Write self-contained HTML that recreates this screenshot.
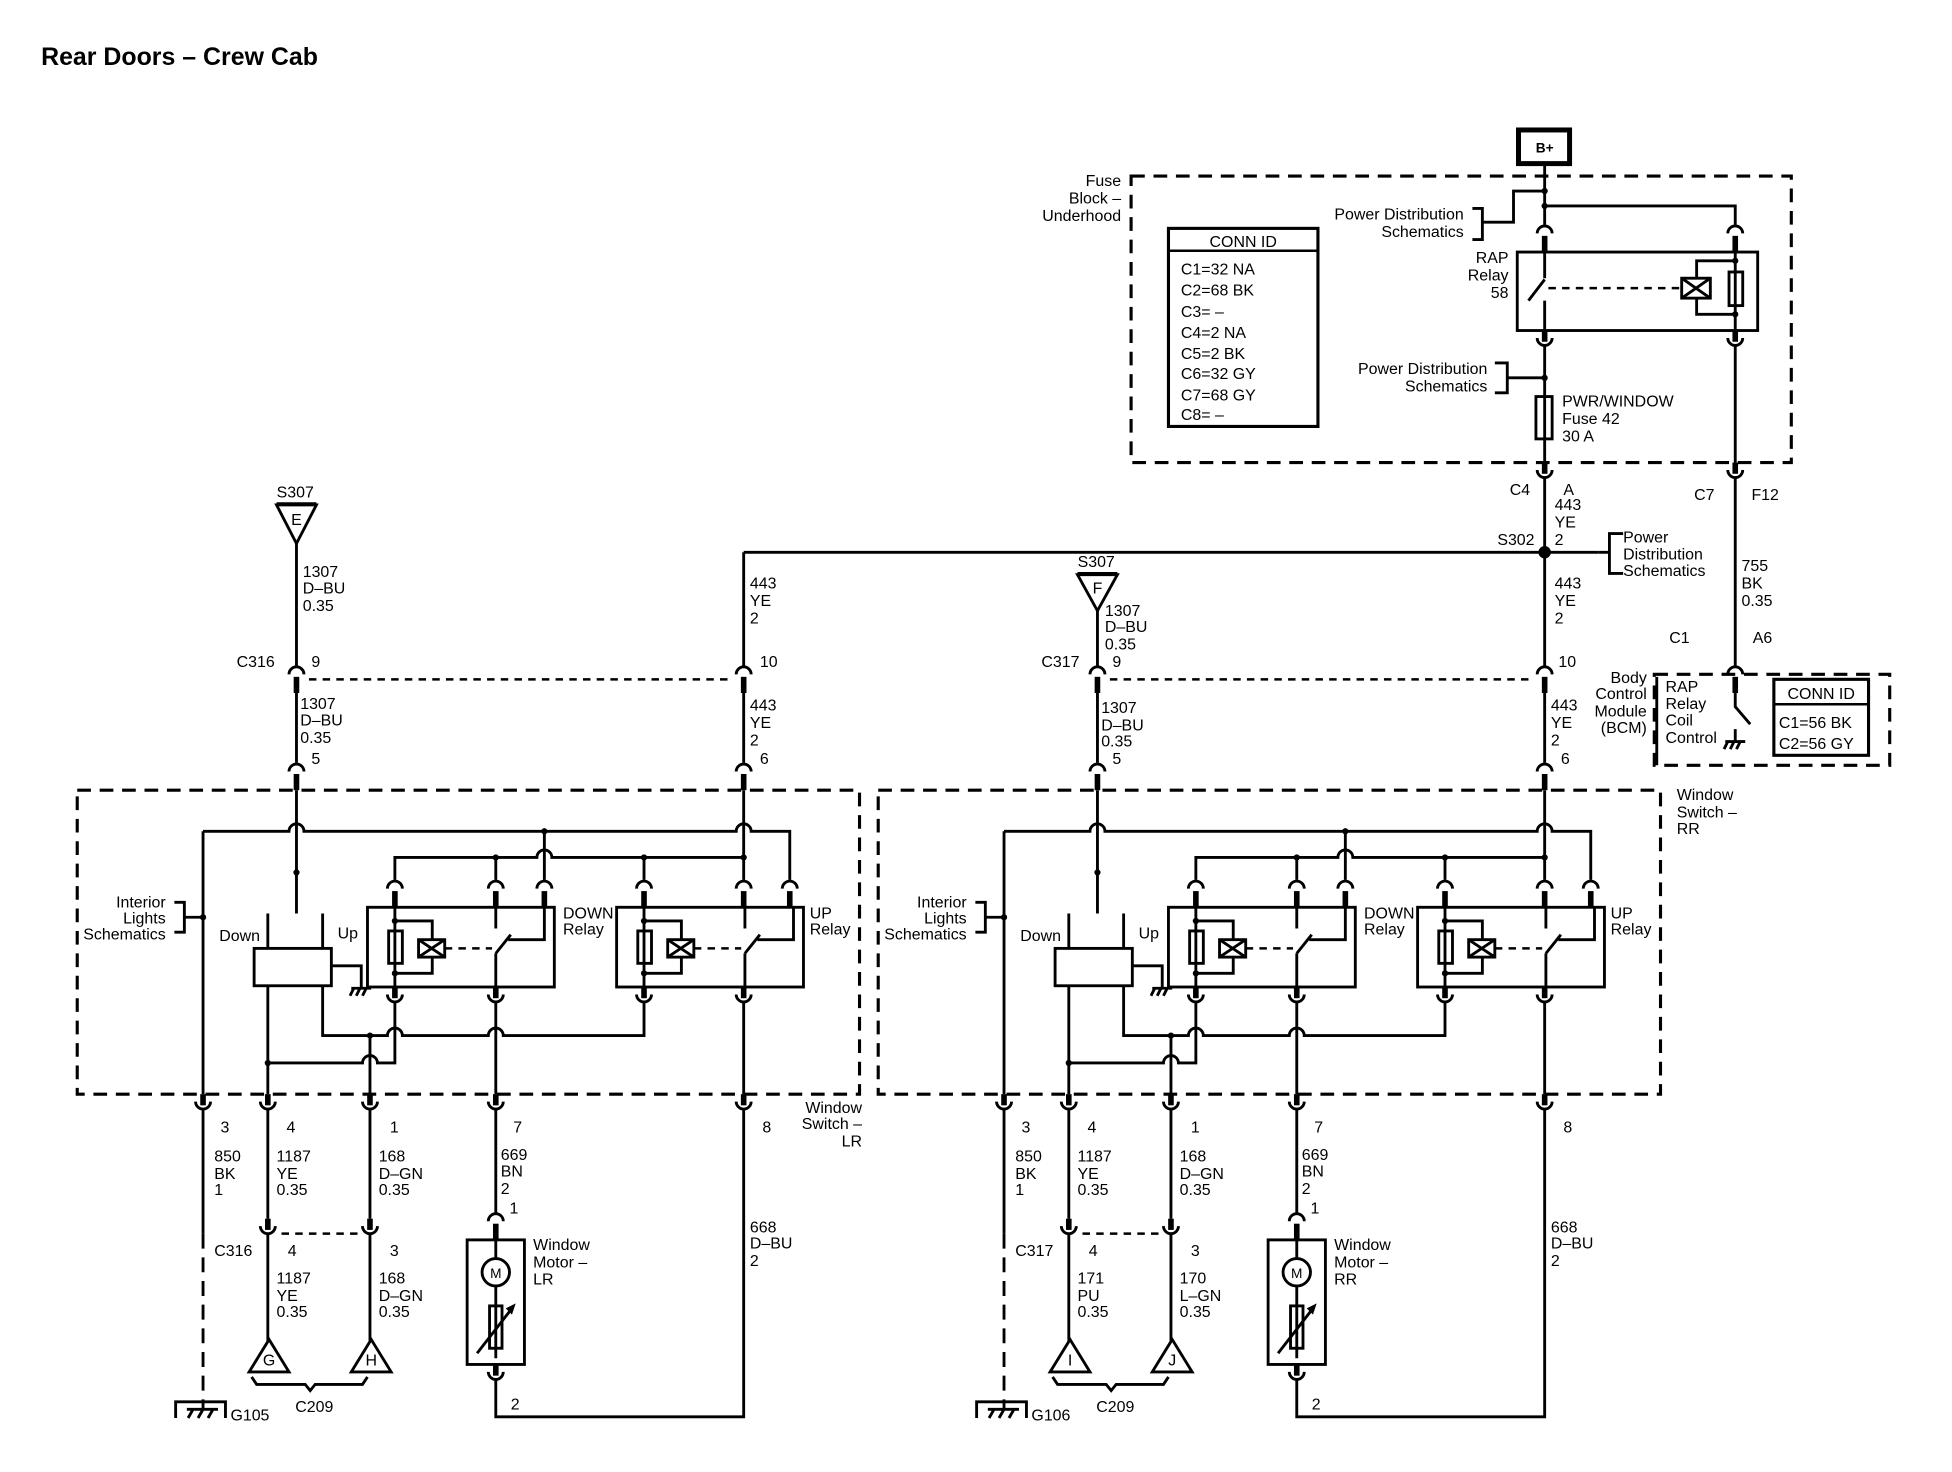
<!DOCTYPE html>
<html><head><meta charset="utf-8"><style>
html,body{margin:0;padding:0;background:#fff;}
svg{display:block;}
text{font-family:"Liberation Sans",Arial,sans-serif;font-size:12.8px;fill:#000;}
.b{font-weight:bold;}
.w{fill:none;stroke:#000;stroke-width:2.3;}
.d{fill:none;stroke:#000;stroke-width:2.5;stroke-dasharray:11 7;}
.ds{fill:none;stroke:#000;stroke-width:2;stroke-dasharray:6 5;}
.th{stroke:#000;stroke-width:4.5;}
</style></head><body>
<svg width="1952" height="1472" viewBox="0 0 1567 1181" xmlns="http://www.w3.org/2000/svg">
<defs>
 <g id="ct"><path d="M-6,7 A6,6 0 0 1 6,7" class="w"/><line x1="0" y1="9" x2="0" y2="22" class="th"/></g>
 <g id="cb"><line x1="0" y1="0" x2="0" y2="9" class="th"/><path d="M-6,6 A6,6 0 0 0 6,6" class="w"/></g>
 <g id="gnd"><path d="M-8,0 H8 M-6,0 L-9,6 M-1,0 L-4,6 M4,0 L1,6" class="w" stroke-width="1.8"/></g>
 <g id="relay">
  <rect x="0" y="0" width="150" height="64" class="w"/>
  <line x1="22" y1="0" x2="22" y2="64" class="w"/>
  <rect x="17" y="19" width="11" height="26" fill="#fff" class="w"/>
  <path d="M22,11 H52 V26 M52,40 V53 H22" class="w"/>
  <circle cx="22" cy="11" r="2.5"/><circle cx="22" cy="53" r="2.5"/>
  <rect x="41" y="26" width="21" height="14" fill="#fff" class="w"/>
  <path d="M41,26 L62,40 M62,26 L41,40" class="w" stroke-width="1.8"/>
  <line x1="62" y1="33" x2="100" y2="33" class="ds"/>
  <path d="M103,0 V17 M103,37 V64 M103,37 L115,22 M142,0 V26 H113" class="w"/>
 </g>
 <g id="door">
  <use href="#ct" x="238" y="534"/><use href="#ct" x="597" y="534"/>
  <line x1="248" y1="545" x2="588" y2="545" class="ds"/>
  <path d="M238,556 V612 M597,556 V612" class="w"/>
  <use href="#ct" x="238" y="612"/><use href="#ct" x="597" y="612"/>
  <rect x="62" y="634" width="628" height="244" class="d"/>
  <path d="M238,634 V733 M597,634 V706" class="w"/>
  <circle cx="238" cy="700" r="2.5"/>
  <path d="M163,667 H232 A6,6 0 0 1 244,667 H591 A6,6 0 0 1 603,667 H634 V706" class="w"/>
  <path d="M163,667 V878" class="w"/>
  <circle cx="163" cy="736" r="2.5"/>
  <path d="M140,724 H148 V748 H140 M148,736 H163" class="w"/>
  <path d="M317,706 V688 H431 A6,6 0 0 1 443,688 H597" class="w"/>
  <path d="M398,688 V706 M517,688 V706 M437,667 V706" class="w"/>
  <circle cx="398" cy="688" r="2.5"/><circle cx="517" cy="688" r="2.5"/><circle cx="597" cy="688" r="2.5"/><circle cx="437" cy="667" r="2.5"/>
  <use href="#ct" x="317" y="706"/><use href="#ct" x="398" y="706"/><use href="#ct" x="437" y="706"/>
  <use href="#ct" x="517" y="706"/><use href="#ct" x="597" y="706"/><use href="#ct" x="634" y="706"/>
  <use href="#relay" x="295" y="728"/><use href="#relay" x="495" y="728"/>
  <use href="#cb" x="317" y="792"/><use href="#cb" x="398" y="792"/><use href="#cb" x="517" y="792"/><use href="#cb" x="597" y="792"/>
  <path d="M215,733 V761 M259,733 V761" class="w"/>
  <rect x="204" y="761" width="62" height="30" class="w" fill="#fff"/>
  <path d="M266,775 H290 V792" class="w"/>
  <use href="#gnd" x="290" y="793"/>
  <path d="M259,791 V831 H311 A6,6 0 0 1 323,831 H392 A6,6 0 0 1 404,831 H517 V804" class="w"/>
  <circle cx="297" cy="831" r="2.5"/>
  <path d="M317,804 V853 H303 A6,6 0 0 0 291,853 H215" class="w"/>
  <circle cx="215" cy="853" r="2.5"/>
  <path d="M215,791 V878 M297,831 V878 M398,804 V878 M597,804 V878" class="w"/>
  <use href="#cb" x="163" y="878"/><use href="#cb" x="215" y="878"/><use href="#cb" x="297" y="878"/><use href="#cb" x="398" y="878"/><use href="#cb" x="597" y="878"/>
  <path d="M163,890 V990" class="w"/>
  <path d="M163,990 V1130" class="w" stroke-dasharray="12 7"/>
  <path d="M141,1138 V1125 H181 V1138 M150,1131 H175 M155,1131 L151,1138 M163,1131 L159,1138 M171,1131 L167,1138" class="w"/>
  <path d="M215,890 V978 M297,890 V978" class="w"/>
  <use href="#cb" x="215" y="978"/><use href="#cb" x="297" y="978"/>
  <line x1="226" y1="990" x2="287" y2="990" class="ds"/>
  <path d="M215,990 V1076 M297,990 V1076" class="w"/>
  <polygon points="216,1075 232,1101 200,1101" fill="#fff" class="w"/>
  <polygon points="298,1075 314,1101 282,1101" fill="#fff" class="w"/>
  <path d="M202,1105 L206,1111 H245 L249,1116 L253,1111 H291 L295,1105" class="w"/>
  <path d="M398,890 V973" class="w"/>
  <use href="#ct" x="398" y="973"/>
  <rect x="375" y="995" width="46" height="100" class="w" fill="none"/>
  <path d="M398,995 V1010 M398,1032 V1090" class="w"/>
  <circle cx="398" cy="1021" r="11" fill="#fff" class="w"/>
  <text x="398" y="1025.5" text-anchor="middle" style="font-size:11px">M</text>
  <rect x="393" y="1048" width="10" height="34" fill="#fff" class="w"/>
  <path d="M383,1086 L411,1050" class="w"/>
  <polygon points="414,1046 406,1050 411,1055"/>
  <use href="#cb" x="398" y="1095"/>
  <path d="M398,1107 V1137 H597 V890" class="w"/>
 </g>
</defs>

<text x="33" y="52" class="b" style="font-size:20px">Rear Doors – Crew Cab</text>

<rect x="1219" y="104" width="41" height="27" fill="#fff" stroke="#000" stroke-width="4"/>
<text x="1240" y="122" text-anchor="middle" class="b" style="font-size:11px">B+</text>
<rect x="908" y="141" width="530" height="230" class="d"/>
<path d="M1240,131 V180 M1240,165 H1393 V180" class="w"/>
<circle cx="1240" cy="153" r="2.5"/><circle cx="1240" cy="165" r="2.5"/>
<path d="M1182,167 H1190 V192 H1182 M1190,178 H1215 V153 H1240" class="w"/>
<use href="#ct" x="1240" y="180"/><use href="#ct" x="1393" y="180"/>
<rect x="1218" y="202" width="193" height="63" class="w"/>
<path d="M1240,202 V223 M1240,241 V265 M1227,241 L1240,224" class="w"/>
<line x1="1243" y1="231" x2="1349" y2="231" class="ds"/>
<rect x="1350" y="223" width="23" height="16" fill="#fff" class="w"/>
<path d="M1350,223 L1373,239 M1373,223 L1350,239" class="w" stroke-width="1.8"/>
<path d="M1393,202 V265 M1393,209 H1362 V223 M1362,239 V252 H1393" class="w"/>
<circle cx="1393" cy="209" r="2.5"/><circle cx="1393" cy="252" r="2.5"/>
<rect x="1388" y="218" width="11" height="27" fill="#fff" class="w"/>
<use href="#cb" x="1240" y="265"/><use href="#cb" x="1393" y="265"/>
<path d="M1240,277 V318 M1200,291 H1210 V315 H1200 M1210,303 H1240" class="w"/>
<circle cx="1240" cy="303" r="2.5"/>
<rect x="1233" y="318" width="13" height="34" class="w"/>
<path d="M1240,318 V371" class="w"/>
<path d="M1393,277 V371" class="w"/>
<use href="#cb" x="1240" y="371"/><use href="#cb" x="1393" y="371"/>
<rect x="938" y="183" width="120" height="159" fill="none" stroke="#000" stroke-width="2.5"/>
<line x1="938" y1="201" x2="1058" y2="201" stroke="#000" stroke-width="2"/>
<text x="998" y="198" text-anchor="middle">CONN ID</text>
<text x="948" y="220">C1=32 NA</text><text x="948" y="237">C2=68 BK</text><text x="948" y="254">C3= –</text><text x="948" y="271">C4=2 NA</text><text x="948" y="288">C5=2 BK</text><text x="948" y="304">C6=32 GY</text><text x="948" y="321">C7=68 GY</text><text x="948" y="337">C8= –</text>
<text x="900" y="149" text-anchor="end">Fuse</text><text x="900" y="163" text-anchor="end">Block –</text><text x="900" y="177" text-anchor="end">Underhood</text>
<text x="1175" y="176" text-anchor="end">Power Distribution</text><text x="1175" y="190" text-anchor="end">Schematics</text>
<text x="1211" y="211" text-anchor="end">RAP</text><text x="1211" y="225" text-anchor="end">Relay</text><text x="1211" y="239" text-anchor="end">58</text>
<text x="1194" y="300" text-anchor="end">Power Distribution</text><text x="1194" y="314" text-anchor="end">Schematics</text>
<text x="1254" y="326">PWR/WINDOW</text><text x="1254" y="340">Fuse 42</text><text x="1254" y="354">30 A</text>

<path d="M1240,383 V534" class="w"/>
<path d="M597,443 V534 M597,443 H1283" class="w"/>
<circle cx="1240" cy="443" r="5"/>
<path d="M1303,428 H1292 V460 H1303 M1292,443 H1283" class="w"/>
<text x="1212" y="397">C4</text><text x="1255" y="397">A</text>
<text x="1248" y="409">443</text><text x="1248" y="423">YE</text><text x="1248" y="437">2</text>
<text x="1202" y="437">S302</text>
<text x="1303" y="435">Power</text><text x="1303" y="449">Distribution</text><text x="1303" y="462">Schematics</text>
<text x="1248" y="472">443</text><text x="1248" y="486">YE</text><text x="1248" y="500">2</text>
<text x="602" y="472">443</text><text x="602" y="486">YE</text><text x="602" y="500">2</text>

<path d="M1393,383 V534" class="w"/>
<text x="1360" y="401">C7</text><text x="1406" y="401">F12</text>
<text x="1398" y="458">755</text><text x="1398" y="472">BK</text><text x="1398" y="486">0.35</text>
<text x="1340" y="516">C1</text><text x="1407" y="516">A6</text>
<use href="#ct" x="1393" y="534"/>
<rect x="1328" y="541" width="189" height="73" class="d"/>
<path d="M1393,556 V567 L1405,581 M1393,585 V595" class="w"/>
<use href="#gnd" x="1393" y="595"/>
<path d="M1330,543 V614" class="w" stroke-width="1.5"/>
<text x="1337" y="555">RAP</text><text x="1337" y="569">Relay</text><text x="1337" y="582">Coil</text><text x="1337" y="596">Control</text>
<text x="1322" y="548" text-anchor="end">Body</text><text x="1322" y="561" text-anchor="end">Control</text><text x="1322" y="575" text-anchor="end">Module</text><text x="1322" y="588" text-anchor="end">(BCM)</text>
<rect x="1424" y="545" width="76" height="61" fill="none" stroke="#000" stroke-width="2.5"/>
<line x1="1424" y1="565" x2="1500" y2="565" stroke="#000" stroke-width="2"/>
<text x="1462" y="561" text-anchor="middle">CONN ID</text>
<text x="1428" y="584">C1=56 BK</text><text x="1428" y="601">C2=56 GY</text>

<text x="237" y="399" text-anchor="middle">S307</text>
<line x1="222" y1="404" x2="254" y2="404" class="w"/>
<polygon points="222,405 254,405 238,436" fill="#fff" class="w"/>
<text x="238" y="421" text-anchor="middle">E</text>
<path d="M238,436 V534" class="w"/>
<text x="243" y="463">1307</text><text x="243" y="476">D–BU</text><text x="243" y="490">0.35</text>
<use href="#door"/>
<text x="190" y="535">C316</text><text x="250" y="535">9</text><text x="610" y="535">10</text>
<text x="241" y="569">1307</text><text x="241" y="582">D–BU</text><text x="241" y="596">0.35</text><text x="250" y="613">5</text>
<text x="602" y="570">443</text><text x="602" y="584">YE</text><text x="602" y="598">2</text><text x="610" y="613">6</text>
<text x="133" y="728" text-anchor="end">Interior</text><text x="133" y="741" text-anchor="end">Lights</text><text x="133" y="754" text-anchor="end">Schematics</text>
<text x="176" y="755">Down</text><text x="271" y="753">Up</text>
<text x="452" y="737">DOWN</text><text x="452" y="750">Relay</text>
<text x="650" y="737">UP</text><text x="650" y="750">Relay</text>
<text x="692" y="893" text-anchor="end">Window</text><text x="692" y="906" text-anchor="end">Switch –</text><text x="692" y="920" text-anchor="end">LR</text>
<text x="177" y="909">3</text><text x="230" y="909">4</text><text x="313" y="909">1</text><text x="412" y="909">7</text><text x="612" y="909">8</text>
<text x="172" y="932">850</text><text x="172" y="946">BK</text><text x="172" y="959">1</text>
<text x="222" y="932">1187</text><text x="222" y="946">YE</text><text x="222" y="959">0.35</text>
<text x="304" y="932">168</text><text x="304" y="946">D–GN</text><text x="304" y="959">0.35</text>
<text x="402" y="931">669</text><text x="402" y="944">BN</text><text x="402" y="958">2</text><text x="409" y="974">1</text>
<text x="172" y="1008">C316</text><text x="231" y="1008">4</text><text x="313" y="1008">3</text>
<text x="222" y="1030">1187</text><text x="222" y="1044">YE</text><text x="222" y="1057">0.35</text>
<text x="304" y="1030">168</text><text x="304" y="1044">D–GN</text><text x="304" y="1057">0.35</text>
<text x="216" y="1096" text-anchor="middle">G</text><text x="298" y="1096" text-anchor="middle">H</text>
<text x="237" y="1133">C209</text><text x="185" y="1140">G105</text>
<text x="428" y="1003">Window</text><text x="428" y="1017">Motor –</text><text x="428" y="1031">LR</text>
<text x="602" y="989">668</text><text x="602" y="1002">D–BU</text><text x="602" y="1016">2</text>
<text x="410" y="1131">2</text>

<g transform="translate(643,0)"><use href="#door"/></g>
<text x="880" y="455" text-anchor="middle">S307</text>
<line x1="865" y1="460" x2="897" y2="460" class="w"/>
<polygon points="865,461 897,461 881,490" fill="#fff" class="w"/>
<text x="881" y="476" text-anchor="middle">F</text>
<path d="M881,490 V534" class="w"/>
<text x="887" y="494">1307</text><text x="887" y="507">D–BU</text><text x="887" y="521">0.35</text>
<text x="836" y="535">C317</text><text x="893" y="535">9</text><text x="1251" y="535">10</text>
<text x="884" y="572">1307</text><text x="884" y="586">D–BU</text><text x="884" y="599">0.35</text><text x="893" y="613">5</text>
<text x="1245" y="570">443</text><text x="1245" y="584">YE</text><text x="1245" y="598">2</text><text x="1253" y="613">6</text>
<text x="1346" y="642">Window</text><text x="1346" y="656">Switch –</text><text x="1346" y="669">RR</text>
<text x="776" y="728" text-anchor="end">Interior</text><text x="776" y="741" text-anchor="end">Lights</text><text x="776" y="754" text-anchor="end">Schematics</text>
<text x="819" y="755">Down</text><text x="914" y="753">Up</text>
<text x="1095" y="737">DOWN</text><text x="1095" y="750">Relay</text>
<text x="1293" y="737">UP</text><text x="1293" y="750">Relay</text>
<text x="820" y="909">3</text><text x="873" y="909">4</text><text x="956" y="909">1</text><text x="1055" y="909">7</text><text x="1255" y="909">8</text>
<text x="815" y="932">850</text><text x="815" y="946">BK</text><text x="815" y="959">1</text>
<text x="865" y="932">1187</text><text x="865" y="946">YE</text><text x="865" y="959">0.35</text>
<text x="947" y="932">168</text><text x="947" y="946">D–GN</text><text x="947" y="959">0.35</text>
<text x="1045" y="931">669</text><text x="1045" y="944">BN</text><text x="1045" y="958">2</text><text x="1052" y="974">1</text>
<text x="815" y="1008">C317</text><text x="874" y="1008">4</text><text x="956" y="1008">3</text>
<text x="865" y="1030">171</text><text x="865" y="1044">PU</text><text x="865" y="1057">0.35</text>
<text x="947" y="1030">170</text><text x="947" y="1044">L–GN</text><text x="947" y="1057">0.35</text>
<text x="859" y="1096" text-anchor="middle">I</text><text x="941" y="1096" text-anchor="middle">J</text>
<text x="880" y="1133">C209</text><text x="828" y="1140">G106</text>
<text x="1071" y="1003">Window</text><text x="1071" y="1017">Motor –</text><text x="1071" y="1031">RR</text>
<text x="1245" y="989">668</text><text x="1245" y="1002">D–BU</text><text x="1245" y="1016">2</text>
<text x="1053" y="1131">2</text>
</svg>
</body></html>
